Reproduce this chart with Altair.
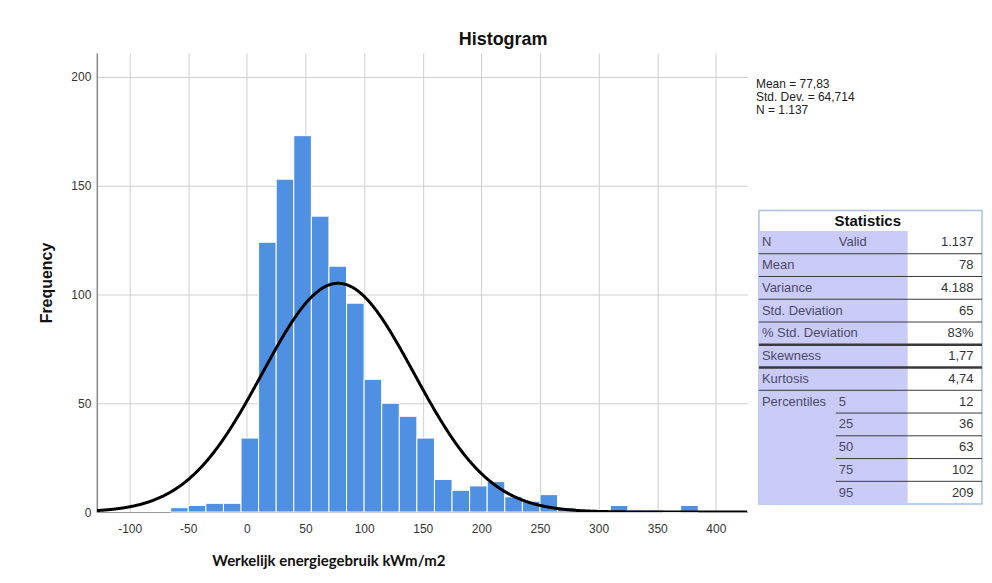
import altair as alt
import pandas as pd

# ---------------- data ----------------
bin_start = [-65, -50, -35, -20, -5, 10, 25, 40, 55, 70, 85, 100, 115, 130, 145,
             160, 175, 190, 205, 220, 235, 250, 265, 280, 295, 310, 325, 340, 355, 370]
counts = [2, 3, 4, 4, 34, 124, 153, 173, 136, 113, 96, 61, 50, 44, 34,
          15, 10, 12, 14, 7, 5, 8, 2, 1, 1, 3, 1, 1, 0, 3]
bin_width = 15

stat_mean = 77.83
stat_sd = 64.714
stat_n = 1137

x_ticks = [-100, -50, 0, 50, 100, 150, 200, 250, 300, 350, 400]
y_ticks = [0, 50, 100, 150, 200]

legend_lines = ["Mean = 77,83", "Std. Dev. = 64,714", "N = 1.137"]

row_labels = ["N", "Mean", "Variance", "Std. Deviation", "% Std. Deviation",
              "Skewness", "Kurtosis", "Percentiles", "", "", "", ""]
row_sub = ["Valid", "", "", "", "", "", "", "5", "25", "50", "75", "95"]
row_values = ["1.137", "78", "4.188", "65", "83%", "1,77", "4,74",
              "12", "36", "63", "102", "209"]

# ---------------- main histogram ----------------
W, H = 652, 460
hist_df = pd.DataFrame({
    "start": bin_start,
    "end": [s + bin_width for s in bin_start],
    "count": counts,
})

x_scale = alt.Scale(domain=[-128, 427], nice=False, zero=False)
y_scale = alt.Scale(domain=[0, 211], nice=False)

bars = alt.Chart(hist_df).mark_rect(
    color="#5090e3", stroke="white", strokeWidth=1
).encode(
    x=alt.X("start:Q", scale=x_scale,
            axis=alt.Axis(values=x_ticks, title="Werkelijk energiegebruik kWm/m2",
                          grid=True, gridColor="#cfcfcf", ticks=False,
                          domainColor="#999999", labelPadding=11,
                          labelExpr="'' + datum.value",
                          labelFont="Liberation Sans", labelFontSize=12,
                          labelColor="#333333", titleFont="Lato",
                          titleFontSize=15, titleFontWeight="bold",
                          titleColor="#111111", titlePadding=20,
                          titleX=232, titleAlign="center", titleAnchor="start",
                          labelFlush=False)),
    x2="end:Q",
    y=alt.Y("count:Q", scale=y_scale,
            axis=alt.Axis(values=y_ticks, title="Frequency",
                          grid=True, gridColor="#cfcfcf", ticks=False,
                          domainColor="#888888", domainWidth=1.5, labelPadding=6,
                          labelFont="Liberation Sans", labelFontSize=12,
                          labelColor="#333333", titleFont="Liberation Sans",
                          titleFontSize=16, titleFontWeight="bold",
                          titleColor="#111111", titlePadding=16)),
    y2=alt.datum(0),
)

curve = alt.Chart(alt.sequence(-128, 427.5, 0.5, as_="v")).transform_calculate(
    f=f"{stat_n * bin_width} * densityNormal(datum.v, {stat_mean}, {stat_sd})"
).mark_line(color="black", strokeWidth=3, clip=True).encode(
    x=alt.X("v:Q", scale=x_scale),
    y=alt.Y("f:Q", scale=y_scale),
)

main = alt.layer(bars, curve).properties(width=W, height=H)

# ---------------- statistics table panel ----------------
TW = 227
RIGHT = 226.5
ty_scale = alt.Scale(domain=[-8.32, 11.85], reverse=True, nice=False, zero=False)
n_rows = len(row_labels)

legend_df = pd.DataFrame({"t": legend_lines, "r": [-6.95, -6.38, -5.81]})
legend_txt = alt.Chart(legend_df).mark_text(
    align="left", baseline="middle", font="Liberation Sans", fontSize=12,
    color="#222222"
).encode(x=alt.value(0), y=alt.Y("r:Q", scale=ty_scale, axis=None), text="t:N")

box_df = pd.DataFrame({"r0": [-1.4], "r1": [n_rows - 0.5]})
box = alt.Chart(box_df).mark_rect(
    fill="white", stroke="#a8c0e6", strokeWidth=1.5
).encode(x=alt.value(3), x2=alt.value(RIGHT),
         y=alt.Y("r0:Q", scale=ty_scale, axis=None), y2="r1:Q")

lav_df = pd.DataFrame({"r0": [-0.5], "r1": [n_rows - 0.5]})
lav = alt.Chart(lav_df).mark_rect(fill="#cbcbf8").encode(
    x=alt.value(3.5), x2=alt.value(152),
    y=alt.Y("r0:Q", scale=ty_scale, axis=None), y2="r1:Q")

title_df = pd.DataFrame({"t": ["Statistics"], "r": [-0.95]})
title_txt = alt.Chart(title_df).mark_text(
    align="center", baseline="middle", font="Liberation Sans", fontSize=15,
    fontWeight="bold", color="#111111"
).encode(x=alt.value(112), y=alt.Y("r:Q", scale=ty_scale, axis=None), text="t:N")

rows_df = pd.DataFrame({
    "r": list(range(n_rows)),
    "label": row_labels,
    "sub": row_sub,
    "val": row_values,
})
lab_txt = alt.Chart(rows_df).mark_text(
    align="left", baseline="middle", font="Liberation Sans", fontSize=13,
    color="#4a4a66"
).encode(x=alt.value(6), y=alt.Y("r:Q", scale=ty_scale, axis=None), text="label:N")
sub_txt = alt.Chart(rows_df).mark_text(
    align="left", baseline="middle", font="Liberation Sans", fontSize=13,
    color="#4a4a66"
).encode(x=alt.value(83), y=alt.Y("r:Q", scale=ty_scale, axis=None), text="sub:N")
val_txt = alt.Chart(rows_df).mark_text(
    align="right", baseline="middle", font="Liberation Sans", fontSize=13,
    color="#333333"
).encode(x=alt.value(218), y=alt.Y("r:Q", scale=ty_scale, axis=None), text="val:N")

# separator lines under each row (full width for main rows, indented for percentiles)
line_r = [i + 0.5 for i in range(n_rows - 1)]
line_x0 = [3 if i < 7 else 80 for i in range(n_rows - 1)]
line_w = [2.5 if i in (4, 5) else 1 for i in range(n_rows - 1)]
lines_df = pd.DataFrame({"r": line_r, "x0": line_x0, "w": line_w})
sep_lines = alt.Chart(lines_df).mark_rule(color="#3a3a3a").encode(
    x=alt.X("x0:Q", scale=alt.Scale(domain=[0, TW], range=[0, TW], nice=False), axis=None),
    x2=alt.value(RIGHT),
    y=alt.Y("r:Q", scale=ty_scale, axis=None),
    strokeWidth=alt.StrokeWidth("w:Q", scale=None, legend=None),
)

table = alt.layer(box, lav, sep_lines, title_txt, lab_txt, sub_txt, val_txt,
                  legend_txt).properties(width=TW, height=H)

chart = alt.hconcat(main, table, spacing=8.5).properties(
    title=alt.TitleParams("Histogram", font="Liberation Sans", fontSize=18,
                          fontWeight="bold", color="#111111", anchor="middle",
                          dx=-8, offset=4),
    padding={"left": 30, "top": 22.5, "right": 0, "bottom": 0},
    background="white",
).configure_view(strokeWidth=0)

chart.save("out.html", embed_options={"renderer": "svg", "actions": False})
